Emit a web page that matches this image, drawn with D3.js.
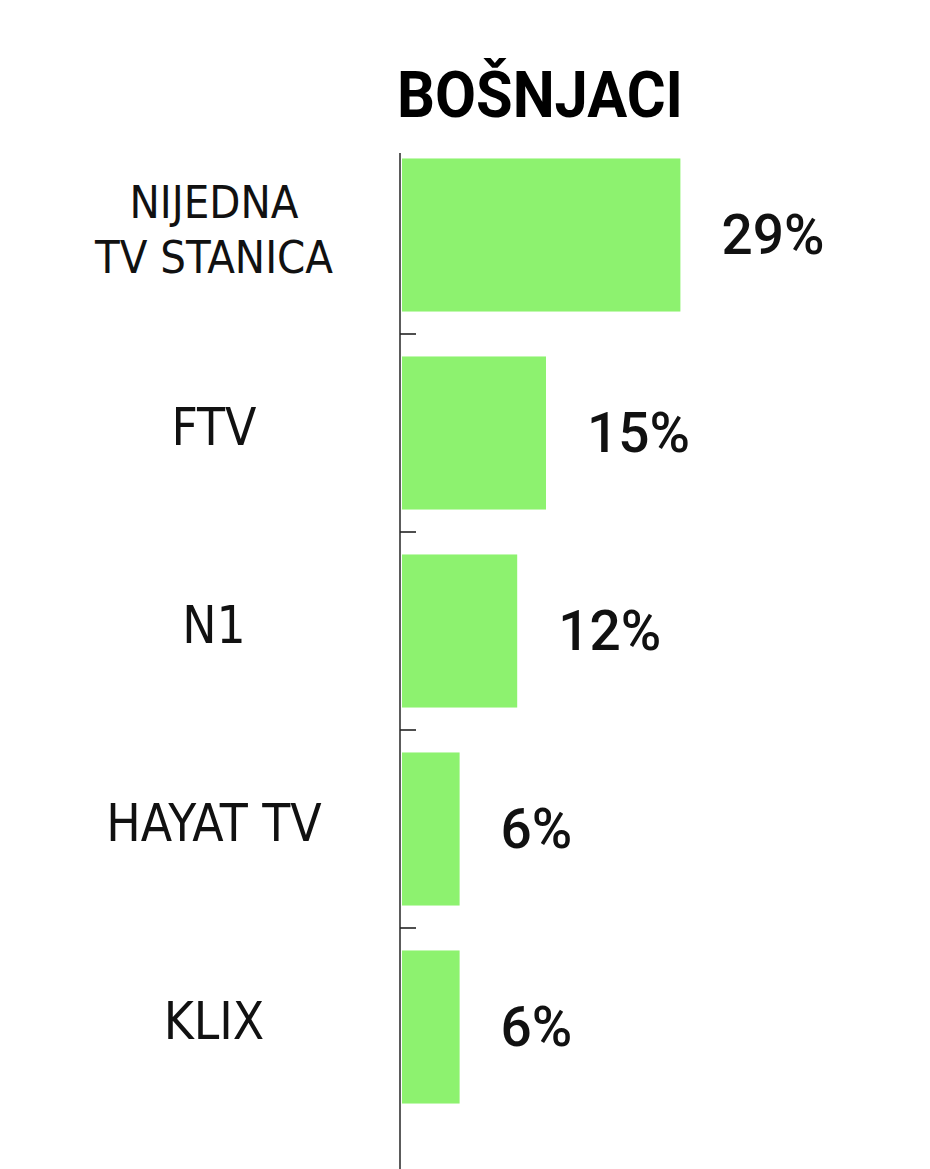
<!DOCTYPE html>
<html>
<head>
<meta charset="utf-8">
<script src="https://cdn.jsdelivr.net/npm/d3@7"></script>
<style>
  html, body { margin: 0; padding: 0; background: #ffffff; }
  svg { display: block; }
</style>
</head>
<body>
<div id="chart"></div>
<script>
const title = "BOŠNJACI";
const categories = ["NIJEDNA TV STANICA", "FTV", "N1", "HAYAT TV", "KLIX"];
const categoryLines = [["NIJEDNA", "TV STANICA"], ["FTV"], ["N1"], ["HAYAT TV"], ["KLIX"]];
const values = [29, 15, 12, 6, 6];
const valueLabels = ["29%", "15%", "12%", "6%", "6%"];

const W = 930, H = 1169;
const svg = d3.select("#chart").append("svg").attr("width", W).attr("height", H);

const axisX = 400;
const y = d3.scaleBand().domain(categories).range([136, 1126]).padding(0);
const barH = y.step() * 0.773;
const x = d3.scaleLinear().domain([0, 30]).range([axisX + 1, axisX + 1 + 30 * 9.6]);

// title
svg.append("text")
  .attr("x", 540).attr("y", 117)
  .attr("text-anchor", "middle")
  .style("font-family", "Roboto, 'DejaVu Sans', sans-serif")
  .style("font-weight", 700)
  .style("font-size", "64px")
  .attr("textLength", 286)
  .attr("lengthAdjust", "spacingAndGlyphs")
  .attr("fill", "#000")
  .text(title);

// bars
svg.selectAll("rect.bar").data(categories).join("rect")
  .attr("class", "bar")
  .attr("x", x(0) + 1)
  .attr("y", d => y(d) + (y.step() - barH) / 2)
  .attr("width", (d, i) => x(values[i]) - x(0))
  .attr("height", barH)
  .attr("fill", "#8df26f");

// axis line
svg.append("line")
  .attr("x1", axisX).attr("x2", axisX)
  .attr("y1", 153).attr("y2", H)
  .attr("stroke", "#333").attr("stroke-width", 1.6);

// ticks at band boundaries
const boundaries = categories.slice(1).map(d => y(d));
svg.selectAll("line.tick").data(boundaries).join("line")
  .attr("class", "tick")
  .attr("x1", axisX).attr("x2", axisX + 16)
  .attr("y1", d => d).attr("y2", d => d)
  .attr("stroke", "#222").attr("stroke-width", 1.6);

// category labels
const labelFont = "'Liberation Sans Narrow', 'DejaVu Sans Condensed', sans-serif";
categories.forEach((c, i) => {
  const lines = categoryLines[i];
  const cy = y(c) + y.step() / 2;
  const fs = lines.length > 1 ? 45 : 51;
  const lh = 55;
  const cap = fs * 0.716;
  const t = svg.append("text")
    .attr("text-anchor", "middle")
    .style("font-family", labelFont)
    .style("font-size", fs + "px")
    .attr("fill", "#111");
  lines.forEach((ln, j) => {
    const off = (j - (lines.length - 1) / 2) * lh;
    t.append("tspan")
      .attr("x", 214)
      .attr("y", cy - 6 + off + cap / 2)
      .text(ln);
  });
});

// value labels
svg.selectAll("text.val").data(categories).join("text")
  .attr("class", "val")
  .attr("x", (d, i) => x(values[i]) + 42)
  .attr("y", d => y(d) + y.step() / 2 + 19)
  .style("font-family", "Roboto, 'DejaVu Sans', sans-serif")
  .style("font-weight", 500)
  .style("font-size", "55px")
  .attr("fill", "#111")
  .text((d, i) => valueLabels[i]);
</script>
</body>
</html>
